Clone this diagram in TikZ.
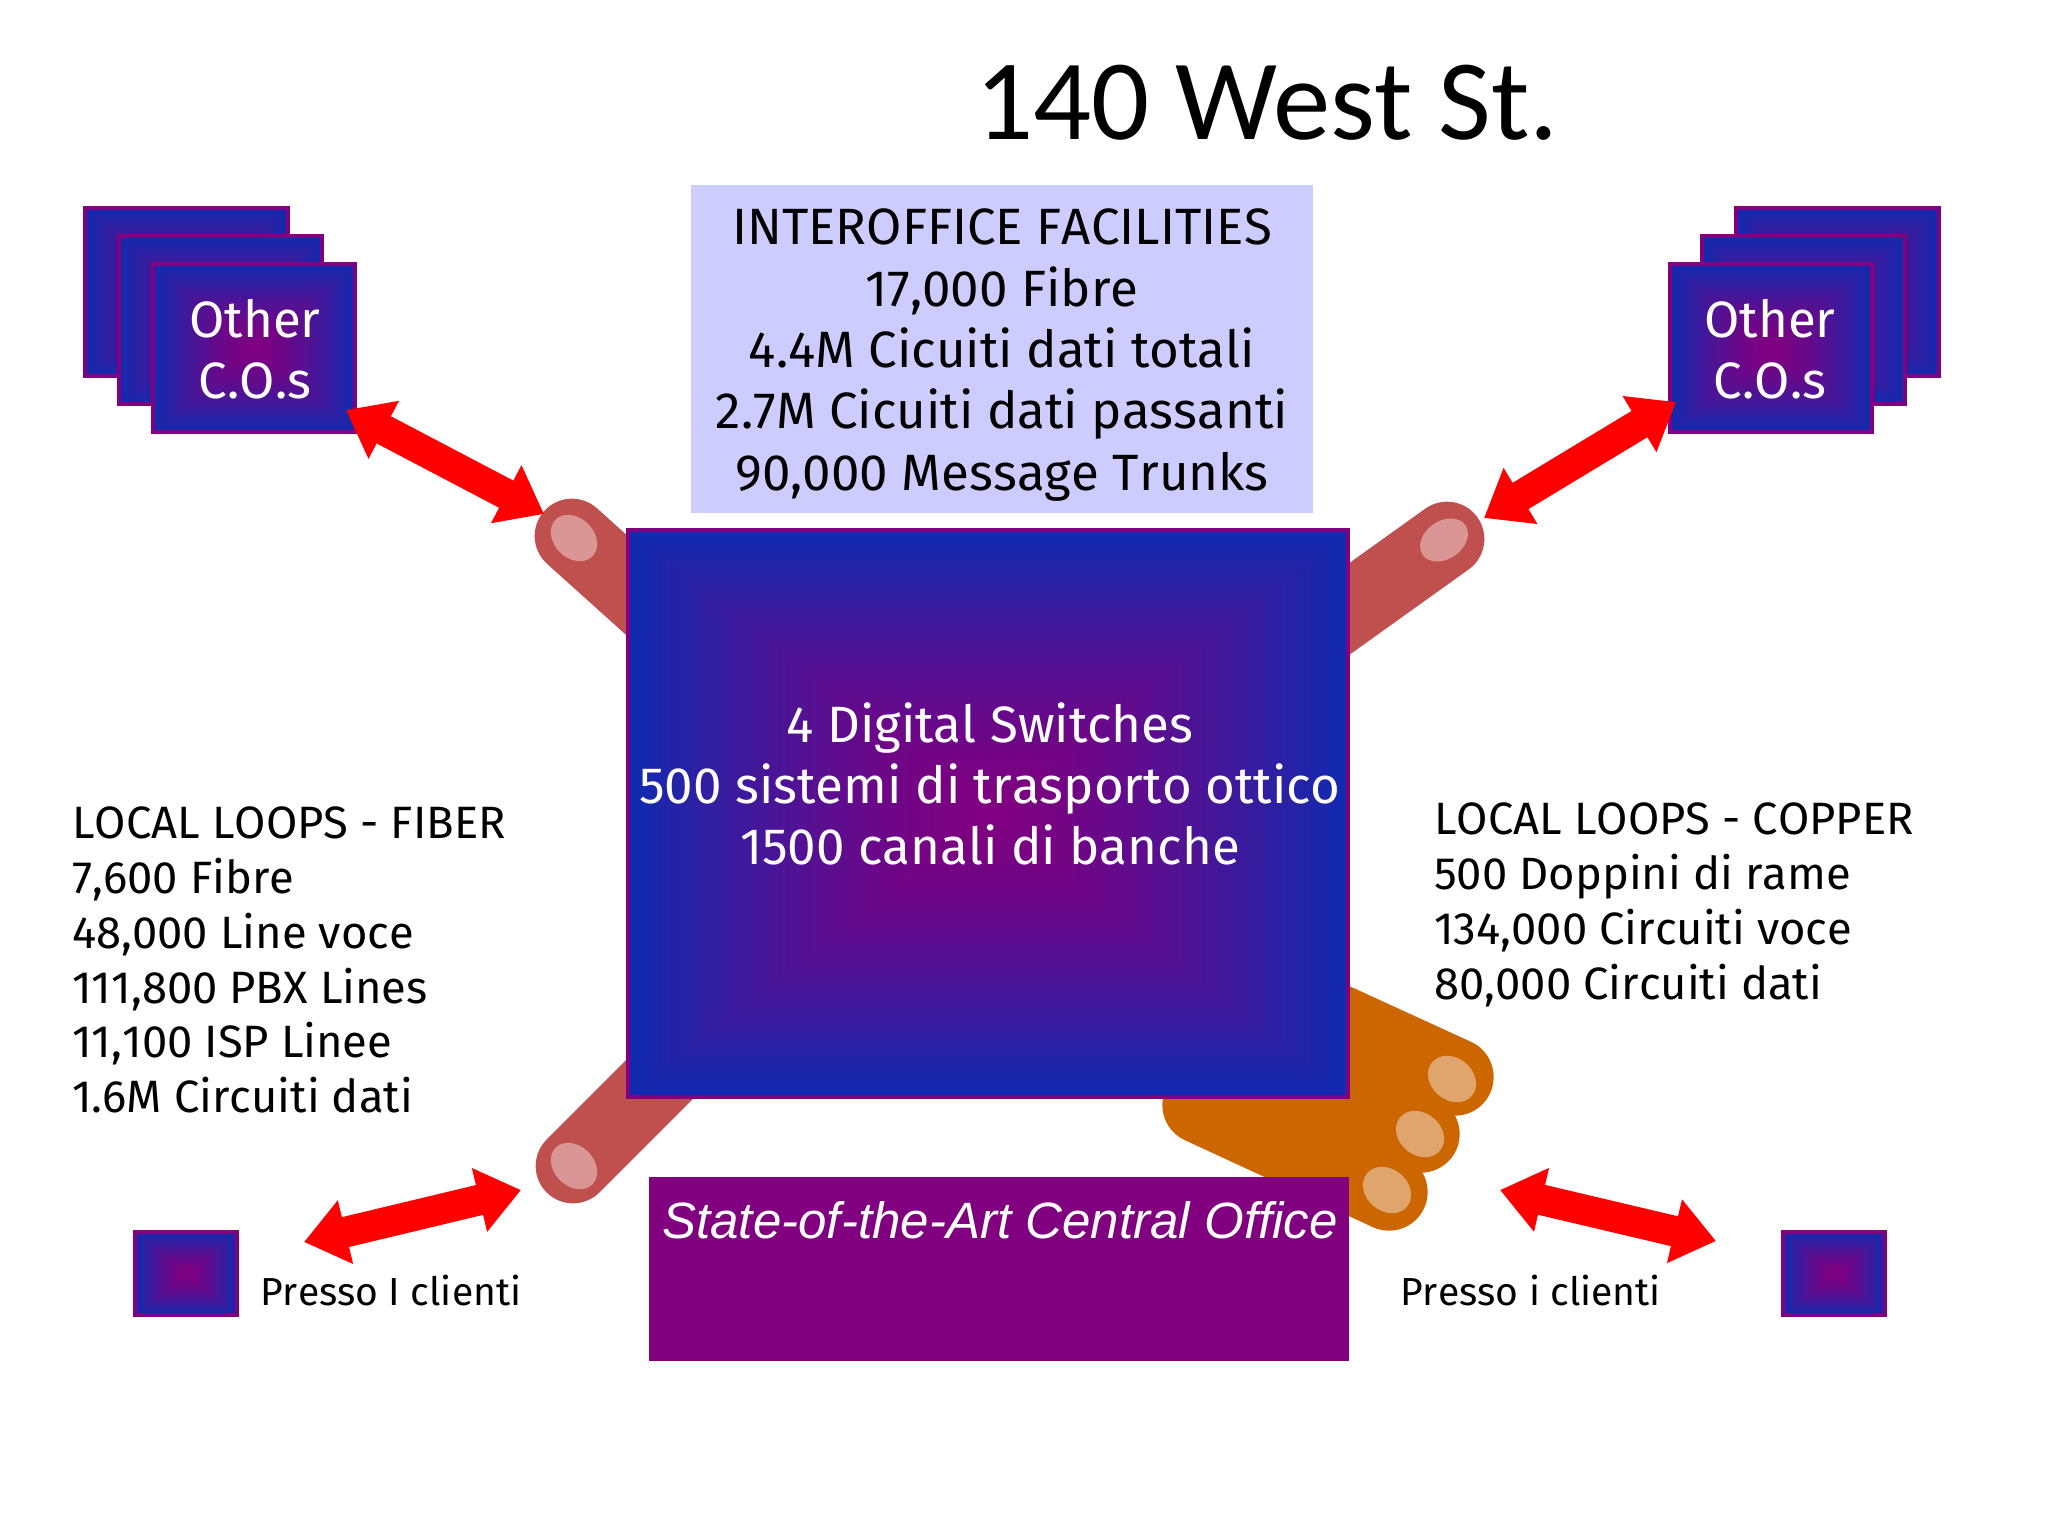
\documentclass[tikz,border=0pt]{standalone}
\usepackage{fontspec}
\usetikzlibrary{arrows.meta}
\setmainfont[Kerning=Off]{Fira Sans}
\newfontfamily\titlefont{Carlito}
\newfontfamily\slidefont{Liberation Sans}

\pgfdeclarefunctionalshading{boxglow}{\pgfpoint{-50bp}{-50bp}}{\pgfpoint{50bp}{50bp}}{}{abs exch abs 2 copy sub abs add add 2 div 25 div 1.4 exp dup -0.44 mul 0.5 add exch dup 0.17 mul exch 0.19 mul 0.5 add}
\definecolor{slidepurple}{RGB}{128,0,128}
\definecolor{slidelilac}{RGB}{204,204,255}
\definecolor{fingerred}{RGB}{192,80,77}
\definecolor{nailred}{RGB}{217,150,148}
\definecolor{toeorange}{RGB}{204,102,0}
\definecolor{nailorange}{RGB}{224,165,108}

\tikzset{
  glowbox/.style={draw=slidepurple,line width=3pt,shading=boxglow},
  finger/.style={draw=fingerred,line width=56pt,line cap=round},
  toe/.style={draw=toeorange,line width=58pt,line cap=round},
  bigarrow/.style={draw=red,line width=23pt,{Triangle[length=32pt,width=47pt]}-{Triangle[length=32pt,width=47pt]}},
  bodytext/.style={inner sep=0.75pt,align=center,font=\fontsize{38.3}{46}\selectfont},
  listtext/.style={inner sep=0.75pt,align=left,anchor=west,font=\fontsize{34}{41.1}\selectfont},
}

\begin{document}
\begin{tikzpicture}[x=0.75pt,y=0.75pt,yscale=-1,xscale=1]
\useasboundingbox (0,0) rectangle (2048,1536);

%Shape: Fingers
\draw [finger] (572,536) -- (722,671) ;
\draw [finger] (1447,539) -- (1250,680) ;
\draw [finger] (573,1166) -- (773,966) ;
\fill [nailred,rotate around={45:(574,538)}] (574,538) ellipse (26 and 20) ;
\fill [nailred,rotate around={-35:(1444,540)}] (1444,540) ellipse (26 and 19) ;
\fill [nailred,rotate around={45:(574,1166)}] (574,1166) ellipse (26 and 20) ;
%Shape: Foot
\fill [toeorange] (1455,1077) -- (1387,1192) -- (1201,1105) -- (1300,1006) -- cycle ;
\draw [toe] (1455,1077) -- (1300,1006) ;
\draw [toe] (1421,1134) -- (1300,1078) ;
\draw [toe] (1389,1192) -- (1201,1105) ;
\fill [nailorange,rotate around={40:(1452,1079)}] (1452,1079) ellipse (26 and 21) ;
\fill [nailorange,rotate around={40:(1420,1134)}] (1420,1134) ellipse (26 and 21) ;
\fill [nailorange,rotate around={40:(1387,1190)}] (1387,1190) ellipse (26 and 21) ;

%Shape: Rectangle
\fill [slidelilac] (691,185) rectangle (1313,513) ;
\draw [glowbox] (628,530) rectangle (1348,1097) ;
\fill [slidepurple] (649,1177) rectangle (1349,1361) ;
%Shape: Stacked boxes left
\draw [glowbox] (85,208) rectangle (288,376) ;
\draw [glowbox] (119,236) rectangle (322,404) ;
\draw [glowbox] (153,264) rectangle (355,432) ;
%Shape: Stacked boxes right
\draw [glowbox] (1736,208) rectangle (1939,376) ;
\draw [glowbox] (1702,236) rectangle (1905,404) ;
\draw [glowbox] (1670,264) rectangle (1872,432) ;
%Shape: Small boxes
\draw [glowbox] (135,1232) rectangle (237,1315) ;
\draw [glowbox] (1783,1232) rectangle (1885,1315) ;

%Arrow ends
\coordinate (otherleft) at (346,410) ;
\coordinate (fingerleft) at (544,514) ;
\coordinate (otherright) at (1676,402) ;
\coordinate (fingerright) at (1484,518) ;
\coordinate (clientleft) at (304,1242) ;
\coordinate (loopleft) at (521,1190) ;
\coordinate (loopright) at (1500,1190) ;
\coordinate (clientright) at (1716,1241) ;
%Straight Lines
\draw [bigarrow] (otherleft) -- (fingerleft) ;
\draw [bigarrow] (otherright) -- (fingerright) ;
\draw [bigarrow] (clientleft) -- (loopleft) ;
\draw [bigarrow] (loopright) -- (clientright) ;

% Text Node
\node (title) [inner sep=0.75pt,font=\titlefont\fontsize{86}{100}\selectfont] at (1267,103) {140 West St.};
% Text Node
\node (facilities) [bodytext] at (1002,355) {INTEROFFICE FACILITIES\\17,000 Fibre\\4.4M Cicuiti dati totali\\2.7M Cicuiti dati passanti\\90,000 Message Trunks};
% Text Node
\node (switches) [bodytext,text=white] at (990,784) {4 Digital Switches\\500 sistemi di trasporto ottico\\1500 canali di banche};
% Text Node
\node (office) [inner sep=0.75pt,text=white,font=\slidefont\itshape\fontsize{38.3}{46}\selectfont] at (1000,1220) {State-of-the-Art Central Office};
% Text Node
\node (otherwest) [bodytext,text=white] at (255,349) {Other\\C.O.s};
% Text Node
\node (othereast) [bodytext,text=white] at (1770,349) {Other\\C.O.s};
% Text Node
\node (fiber) [listtext] at (71,960) {LOCAL LOOPS - FIBER\\7,600 Fibre\\48,000 Line voce\\111,800 PBX Lines\\11,100 ISP Linee\\1.6M Circuiti dati};
% Text Node
\node (copper) [listtext] at (1433,905) {LOCAL LOOPS - COPPER\\500 Doppini di rame\\134,000 Circuiti voce\\80,000 Circuiti dati};
% Text Node
\node (clientwest) [inner sep=0.75pt,anchor=west,font=\fontsize{29.3}{34}\selectfont] at (259,1290) {Presso I clienti};
% Text Node
\node (clienteast) [inner sep=0.75pt,anchor=west,font=\fontsize{29.3}{34}\selectfont] at (1399,1290) {Presso i clienti};

\end{tikzpicture}
\end{document}
